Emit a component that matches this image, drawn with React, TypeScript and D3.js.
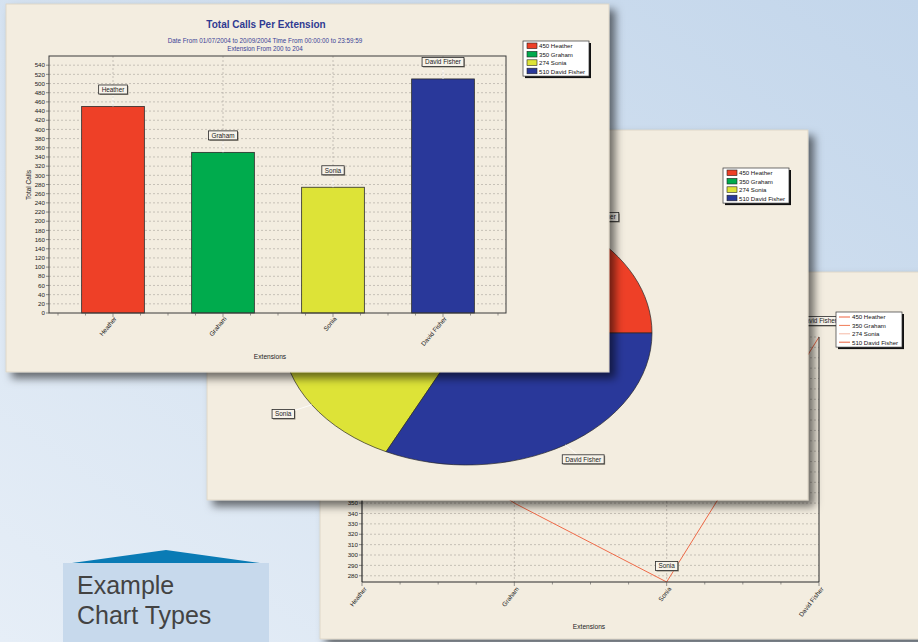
import React from 'react';
import * as d3 from 'd3';

const names = ['Heather', 'Graham', 'Sonia', 'David Fisher'];
const calls = [450, 350, 274, 510];
const fillColors = ['#ee4027', '#00ab4d', '#dde337', '#29389a'];
const lineLegendColors = ['#f0623f', '#f07a55', '#f6b9a6', '#e9603e'];
const barTicks = [0, 20, 40, 60, 80, 100, 120, 140, 160, 180, 200, 220, 240, 260, 280, 300, 320, 340, 360, 380, 400, 420, 440, 460, 480, 500, 520, 540];
const lineTicks = [280, 290, 300, 310, 320, 330, 340, 350, 360, 370, 380, 390, 400, 410, 420, 430, 440, 450, 460, 470, 480, 490, 500, 510];
const titleText = 'Total Calls Per Extension';
const subText1 = 'Date From 01/07/2004 to 20/09/2004    Time From 00:00:00 to 23:59:59';
const subText2 = 'Extension From 200 to 204';

const FONT = '"Liberation Sans", Arial, sans-serif';
const PANEL = '#f3ede0';

let ctx: CanvasRenderingContext2D | null = null;
function textW(t: string, size: number) {
  if (!ctx) ctx = document.createElement('canvas').getContext('2d');
  if (!ctx) return t.length * size * 0.5;
  ctx.font = `${size}px "Liberation Sans", Arial, sans-serif`;
  return ctx.measureText(t).width;
}

function LabelBox({ x, y, text, size = 6.4 }: { x: number; y: number; text: string; size?: number }) {
  const w = textW(text, size) + 6;
  const h = 9;
  return (
    <g>
      <rect x={x - w / 2 + 1} y={y - h / 2 + 1} width={w} height={h} fill="#8a8578" />
      <rect x={x - w / 2} y={y - h / 2} width={w} height={h} fill="#f7f3ea" stroke="#2a2a2a" strokeWidth={0.8} />
      <text x={x} y={y + 2.3} fontSize={size} textAnchor="middle" fill="#222" fontFamily={FONT}>{text}</text>
    </g>
  );
}

function Legend({ x, y, w, kind }: { x: number; y: number; w: number; kind: 'box' | 'line' }) {
  const rowH = 8.4;
  const h = rowH * names.length + 1.5;
  return (
    <g>
      <rect x={x + 2} y={y + 2} width={w} height={h} fill="#111" />
      <rect x={x} y={y} width={w} height={h} fill="#fff" stroke="#333" strokeWidth={0.7} />
      {names.map((n, i) => (
        <g key={n}>
          {kind === 'box' ? (
            <rect x={x + 4} y={y + 2 + i * rowH} width={10} height={5.6} fill={fillColors[i]} stroke="#222" strokeWidth={0.6} />
          ) : (
            <line x1={x + 3} x2={x + 14} y1={y + 5 + i * rowH} y2={y + 5 + i * rowH} stroke={lineLegendColors[i]} strokeWidth={1} />
          )}
          <text x={x + 16} y={y + 7.4 + i * rowH} fontSize={6.1} fill="#111" fontFamily={FONT}>{`${calls[i]} ${n}`}</text>
        </g>
      ))}
    </g>
  );
}

function BarPanel() {
  const px0 = 49, px1 = 506, py0 = 56, py1 = 313;
  const x = d3.scaleBand<string>().domain(names).range([58, 498]).paddingInner(0.43).paddingOuter(0.215);
  const y = d3.scaleLinear().domain([0, 560]).range([py1, py0]);
  const step = x.step();
  const start = 58;
  const minor = d3.range(0, 17).map(k => start + (k * step) / 4);
  return (
    <g>
      <rect x={6} y={4} width={603} height={368} fill={PANEL} stroke="#d9d2c2" strokeWidth={0.8} filter="url(#sh)" />
      <text x={266} y={28} fontSize={10} fontWeight="bold" textAnchor="middle" fill="#2f3a92" fontFamily={FONT}>{titleText}</text>
      <text x={265} y={43} fontSize={6.3} textAnchor="middle" fill="#3a4296" fontFamily={FONT}>{subText1}</text>
      <text x={265} y={51} fontSize={6.3} textAnchor="middle" fill="#3a4296" fontFamily={FONT}>{subText2}</text>
      {barTicks.map(t => (
        <g key={t}>
          {t > 0 && <line x1={px0} x2={px1} y1={y(t)} y2={y(t)} stroke="#a8a39a" strokeWidth={0.6} strokeDasharray="2,2" />}
          <line x1={px0 - 3} x2={px0} y1={y(t)} y2={y(t)} stroke="#444" strokeWidth={0.6} />
          <text x={px0 - 4} y={y(t) + 2.2} fontSize={6.2} textAnchor="end" fill="#222" fontFamily={FONT}>{t}</text>
        </g>
      ))}
      {names.map(n => (
        <line key={n} x1={x(n)! + x.bandwidth() / 2} x2={x(n)! + x.bandwidth() / 2} y1={py0} y2={py1} stroke="#a8a39a" strokeWidth={0.6} strokeDasharray="2,2" />
      ))}
      {names.map((n, i) => (
        <rect key={n} x={x(n)!} y={y(calls[i])} width={x.bandwidth()} height={py1 - y(calls[i])} fill={fillColors[i]} stroke="#2a2a2a" strokeWidth={0.8} />
      ))}
      <rect x={px0} y={py0} width={px1 - px0} height={py1 - py0} fill="none" stroke="#3a3a3a" strokeWidth={1} />
      {minor.map((m, k) => (
        <line key={k} x1={m} x2={m} y1={py1} y2={py1 + (k % 4 === 2 ? 4 : 2.5)} stroke="#555" strokeWidth={0.6} />
      ))}
      {names.map((n, i) => {
        const cx = x(n)! + x.bandwidth() / 2;
        const ly = y(calls[i]) - 17;
        return (
          <g key={n}>
            <line x1={cx} x2={cx} y1={ly + 4} y2={y(calls[i])} stroke="#ffffff" strokeWidth={0.8} />
            <LabelBox x={cx} y={ly} text={n} />
            <text transform={`translate(${cx + 4},${py1 + 6}) rotate(-50)`} fontSize={6.4} textAnchor="end" fill="#222" fontFamily={FONT}>{n}</text>
          </g>
        );
      })}
      <text transform="translate(31,185) rotate(-90)" fontSize={6.5} textAnchor="middle" fill="#222" fontFamily={FONT}>Total Calls</text>
      <text x={270} y={359} fontSize={6.6} textAnchor="middle" fill="#222" fontFamily={FONT}>Extensions</text>
      <Legend x={523} y={41} w={66} kind="box" />
    </g>
  );
}

function PiePanel() {
  const cx = 467, cy = 333, rx = 185, ry = 132;
  const pie = d3.pie<number>().sort(null).value(d => d).startAngle(Math.PI / 2).endAngle(Math.PI / 2 - 2 * Math.PI);
  const arcs = pie(calls);
  const arc = d3.arc<d3.PieArcDatum<number>>().innerRadius(0).outerRadius(rx);
  return (
    <g>
      <rect x={207} y={130} width={601} height={370} fill={PANEL} stroke="#d9d2c2" strokeWidth={0.8} filter="url(#sh)" />
      <g transform={`translate(${cx},${cy}) scale(1,${ry / rx})`}>
        {arcs.map((a, i) => (
          <path key={i} d={arc(a) || ''} fill={fillColors[i]} stroke="#2a2a2a" strokeWidth={0.7} vectorEffect="non-scaling-stroke" />
        ))}
      </g>
      {arcs.map((a, i) => {
        const m = (a.startAngle + a.endAngle) / 2;
        const ex = cx + rx * Math.sin(m), ey = cy - ry * Math.cos(m);
        const lx = cx + (rx + 34) * Math.sin(m), ly = cy - (ry + 17) * Math.cos(m);
        return (
          <g key={i}>
            <line x1={ex} y1={ey} x2={lx} y2={ly} stroke="#fff" strokeWidth={0.8} />
            <LabelBox x={lx} y={ly} text={names[i]} />
          </g>
        );
      })}
      <Legend x={723} y={168} w={66} kind="box" />
    </g>
  );
}

function LinePanel() {
  const px0 = 362, px1 = 819, py0 = 337, py1 = 582;
  const x = d3.scalePoint<string>().domain(names).range([px0, px1]);
  const y = d3.scaleLinear().domain([274, 510]).range([py1, py0]);
  const step = x.step();
  const minor = d3.range(0, 13).map(k => px0 + (k * step) / 4);
  const line = d3.line<number>().x((_, i) => x(names[i])!).y(d => y(d));
  return (
    <g>
      <rect x={320} y={272} width={620} height={367} fill={PANEL} stroke="#d9d2c2" strokeWidth={0.8} filter="url(#sh)" />
      {lineTicks.map(t => (
        <g key={t}>
          <line x1={px0} x2={px1} y1={y(t)} y2={y(t)} stroke="#a8a39a" strokeWidth={0.6} strokeDasharray="2,2" />
          <line x1={px0 - 3} x2={px0} y1={y(t)} y2={y(t)} stroke="#444" strokeWidth={0.6} />
          <text x={px0 - 4} y={y(t) + 2.2} fontSize={6.2} textAnchor="end" fill="#222" fontFamily={FONT}>{t}</text>
        </g>
      ))}
      {names.slice(1, 3).map(n => (
        <line key={n} x1={x(n)!} x2={x(n)!} y1={py0} y2={py1} stroke="#a8a39a" strokeWidth={0.6} strokeDasharray="2,2" />
      ))}
      <path d={line(calls) || ''} fill="none" stroke="#ee6a48" strokeWidth={1} />
      <line x1={px0} x2={px0} y1={py0} y2={py1} stroke="#2a2a2a" strokeWidth={1.2} />
      <line x1={px1} x2={px1} y1={py0} y2={py1} stroke="#2a2a2a" strokeWidth={1} />
      <line x1={px0} x2={px1} y1={py1} y2={py1} stroke="#2a2a2a" strokeWidth={1.2} />
      {minor.map((m, k) => (
        <line key={k} x1={m} x2={m} y1={py1} y2={py1 + (k % 4 === 0 ? 4 : 2.5)} stroke="#555" strokeWidth={0.6} />
      ))}
      {names.map((n, i) => (
        <g key={n}>
          {(i === 2 || i === 3) && <LabelBox x={x(n)!} y={y(calls[i]) - 16} text={n} />}
          <text transform={`translate(${x(n)! + 5},${py1 + 7}) rotate(-52)`} fontSize={6.4} textAnchor="end" fill="#222" fontFamily={FONT}>{n}</text>
        </g>
      ))}
      <text x={589} y={629} fontSize={6.6} textAnchor="middle" fill="#222" fontFamily={FONT}>Extensions</text>
      <Legend x={836} y={312} w={66} kind="line" />
    </g>
  );
}

export default function App() {
  return (
    <svg width={918} height={642} style={{ position: 'absolute', left: 0, top: 0 }} xmlns="http://www.w3.org/2000/svg">
      <defs>
        <linearGradient id="bg" x1="0" y1="1" x2="1" y2="0">
          <stop offset="0" stopColor="#e6eef7" />
          <stop offset="0.55" stopColor="#d3e1f0" />
          <stop offset="1" stopColor="#c3d6eb" />
        </linearGradient>
        <filter id="sh" x="-5%" y="-5%" width="115%" height="120%">
          <feDropShadow dx="6" dy="6" stdDeviation="4" floodColor="#000" floodOpacity="0.55" />
        </filter>
      </defs>
      <rect x={0} y={0} width={918} height={642} fill="url(#bg)" />
      <rect x={63} y={563} width={206} height={79} fill="#c7d9ec" />
      <polygon points="72,563 166,550 260,563" fill="#0a7bb5" />
      <text x={77} y={594} fontSize={25} fill="#434343" fontFamily={FONT}>Example</text>
      <text x={77} y={624} fontSize={25} fill="#434343" fontFamily={FONT}>Chart Types</text>
      <LinePanel />
      <PiePanel />
      <BarPanel />
    </svg>
  );
}
